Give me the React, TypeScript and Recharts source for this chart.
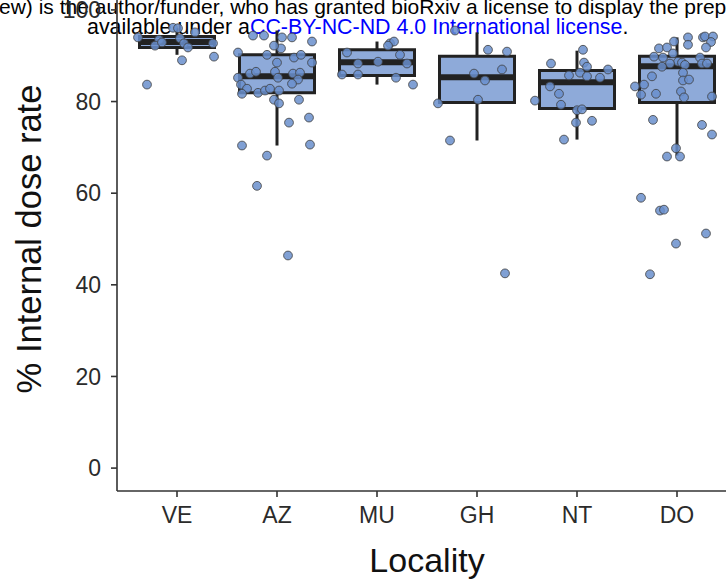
import React from 'react';
import {
  ScatterChart,
  Scatter,
  XAxis,
  YAxis,
  ReferenceArea,
  ReferenceLine,
} from 'recharts';

const localities = ['VE', 'AZ', 'MU', 'GH', 'NT', 'DO'];

// box statistics
const whiskerLow = [90.2, 70.4, 83.7, 71.5, 71.7, 68.2];
const lowerQuartile = [91.8, 81.9, 85.7, 79.8, 78.5, 79.8];
const medians = [93.0, 85.5, 88.6, 85.3, 84.2, 87.7];
const upperQuartile = [94.2, 90.2, 91.3, 89.9, 86.8, 89.9];
const whiskerHigh = [96.0, 95.5, 93.1, 95.1, 91.1, 94.0];

// individual points (value, horizontal jitter in category units)
const veValues = [94.0, 96.1, 93.5, 92.2, 92.9, 93.8, 92.7, 91.8, 89.0, 92.7, 89.8, 83.7, 95.1, 96.0];
const veJitter = [-0.39, -0.04, -0.18, -0.22, -0.15, 0.03, 0.07, 0.11, 0.05, 0.36, 0.37, -0.3, 0.18, 0.01];

const azValues = [
  90.7, 94.4, 94.4, 94.0, 94.0, 91.6, 92.2, 93.1, 90.2, 88.5, 89.6, 90.2, 88.5, 85.2, 86.1, 86.5, 86.5, 85.2, 86.1, 86.3,
  84.8, 83.9, 83.7, 82.8, 81.7, 81.9, 82.4, 82.8, 82.4, 80.4, 79.6, 80.4, 75.4, 76.5, 70.4, 70.6, 68.2, 61.6, 46.4,
];
const azJitter = [
  -0.39, -0.24, -0.13, 0.05, 0.15, 0.04, -0.03, 0.35, -0.1, 0.0, 0.17, 0.24, 0.35, -0.39, -0.27, -0.21, -0.02, 0.01, 0.16, 0.23,
  0.21, 0.15, -0.36, -0.3, -0.35, -0.19, -0.12, -0.07, 0.02, -0.03, 0.02, 0.22, 0.12, 0.32, -0.35, 0.33, -0.1, -0.2, 0.11,
];

const muValues = [90.7, 92.7, 93.1, 92.2, 90.2, 88.3, 88.7, 88.3, 85.9, 85.9, 85.2, 83.7];
const muJitter = [-0.3, 0.13, 0.17, 0.11, 0.23, -0.19, 0.01, 0.3, -0.35, -0.19, 0.19, 0.36];

const ghValues = [95.5, 91.3, 90.9, 87.0, 86.1, 84.6, 80.4, 79.6, 71.5, 42.5];
const ghJitter = [-0.22, 0.11, 0.3, 0.25, -0.03, 0.08, 0.01, -0.39, -0.27, 0.28];

const ntValues = [91.3, 88.3, 88.5, 87.6, 85.7, 86.3, 85.5, 85.2, 87.0, 83.3, 81.7, 80.2, 79.3, 78.1, 78.3, 75.8, 75.4, 71.7];
const ntJitter = [0.06, -0.26, 0.07, 0.1, -0.08, 0.03, 0.1, 0.23, 0.31, -0.27, -0.18, -0.42, -0.16, 0.0, 0.05, 0.15, -0.01, -0.13];

const doValues = [
  93.1, 94.0, 92.4, 94.0, 94.2, 94.2, 93.0, 91.8, 91.6, 91.8, 90.5, 89.8, 89.6, 88.7, 88.5, 88.0, 89.6, 88.3, 88.3, 88.3,
  87.6, 86.3, 85.5, 84.6, 84.8, 83.7, 83.3, 81.5, 81.7, 82.2, 80.9, 81.1, 76.0, 74.9, 72.8, 69.8, 68.0, 68.0, 59.0, 56.2,
  56.4, 51.2, 49.0, 42.3,
];
const doJitter = [
  -0.03, 0.11, 0.11, 0.26, 0.28, 0.36, 0.34, 0.29, -0.18, -0.1, -0.04, -0.23, -0.14, 0.01, 0.05, 0.08, 0.23, 0.25, 0.3, -0.07,
  -0.15, 0.06, -0.25, 0.06, 0.12, -0.33, -0.42, -0.36, -0.21, 0.04, 0.07, 0.35, -0.24, 0.25, 0.35, -0.01, -0.1, 0.03, -0.36, -0.17,
  -0.13, 0.29, -0.01, -0.27,
];

const yTicks = [0, 20, 40, 60, 80, 100];

const groups = [
  [veValues, veJitter],
  [azValues, azJitter],
  [muValues, muJitter],
  [ghValues, ghJitter],
  [ntValues, ntJitter],
  [doValues, doJitter],
];

const points = groups.flatMap(([vals, jit], i) =>
  vals.map((v, k) => ({ x: i + 1 + jit[k], y: v, locality: localities[i] }))
);

const BOX_HALF = 0.375;
const AXIS = '#333333';
const BOX_FILL = '#8eaad9';
const INK = '#222222';
const FONT = '"Liberation Sans", Arial, sans-serif';

const Dot = (props: any) => (
  <circle
    cx={props.cx}
    cy={props.cy}
    r={4.4}
    fill="#6a8fcc"
    fillOpacity={0.85}
    stroke="#3d3d3d"
    strokeWidth={0.8}
  />
);

export default function App() {
  return (
    <div style={{ position: 'relative', width: 726, height: 583, overflow: 'hidden', background: '#fff' }}>
      <style>{'body{margin:0}'}</style>
      {/* bioRxiv banner */}
      <div
        style={{
          position: 'absolute',
          left: -1,
          top: -4,
          whiteSpace: 'nowrap',
          fontFamily: FONT,
          fontSize: 21,
          lineHeight: '21px',
          color: '#000',
        }}
      >
        ew) is the author/funder, who has granted bioRxiv a license to display the preprint in perpetuity. It is made
      </div>
      <div
        style={{
          position: 'absolute',
          left: 87,
          top: 17,
          whiteSpace: 'nowrap',
          fontFamily: FONT,
          fontSize: 21.4,
          lineHeight: '21px',
          color: '#000',
        }}
      >
        available under a<span style={{ color: '#0000ff' }}>CC-BY-NC-ND 4.0 International license</span>.
      </div>

      <div style={{ position: 'absolute', left: 0, top: -13 }}>
        <ScatterChart width={757} height={596} margin={{ top: 0, right: 20, bottom: 0, left: 0 }}>
          <XAxis
            type="number"
            dataKey="x"
            domain={[0.4, 6.6]}
            ticks={[1, 2, 3, 4, 5, 6]}
            tickFormatter={(v: number) => localities[Math.round(v) - 1]}
            allowDataOverflow
            height={92}
            tickSize={6}
            tickMargin={10}
            stroke={AXIS}
            strokeWidth={1.6}
            tick={{ fill: '#2b2b2b', fontSize: 23, fontFamily: FONT }}
            label={{
              content: (p: any) => (
                <text
                  x={p.viewBox.x + p.viewBox.width / 2}
                  y={585}
                  textAnchor="middle"
                  fontSize={34}
                  fontFamily={FONT}
                  fill="#111"
                >
                  Locality
                </text>
              ),
            }}
          />
          <YAxis
            type="number"
            dataKey="y"
            domain={[-5, 105]}
            ticks={yTicks}
            allowDataOverflow
            width={117}
            tickSize={6}
            tickMargin={10}
            stroke={AXIS}
            strokeWidth={1.6}
            tick={{ fill: '#2b2b2b', fontSize: 23, fontFamily: FONT }}
            label={{
              content: (p: any) => {
                const cy = p.viewBox.y + p.viewBox.height / 2;
                return (
                  <text
                    x={29}
                    y={cy}
                    textAnchor="middle"
                    dominantBaseline="central"
                    transform={`rotate(-90, 29, ${cy})`}
                    fontSize={34.5}
                    fontFamily={FONT}
                    fill="#111"
                  >
                    % Internal dose rate
                  </text>
                );
              },
            }}
          />

          {localities.map((loc, i) => (
            <ReferenceLine
              key={`wl-${loc}`}
              segment={[
                { x: i + 1, y: whiskerLow[i] },
                { x: i + 1, y: lowerQuartile[i] },
              ]}
              stroke={INK}
              strokeWidth={3}
            />
          ))}
          {localities.map((loc, i) => (
            <ReferenceLine
              key={`wh-${loc}`}
              segment={[
                { x: i + 1, y: upperQuartile[i] },
                { x: i + 1, y: whiskerHigh[i] },
              ]}
              stroke={INK}
              strokeWidth={3}
            />
          ))}
          {localities.map((loc, i) => (
            <ReferenceArea
              key={`box-${loc}`}
              x1={i + 1 - BOX_HALF}
              x2={i + 1 + BOX_HALF}
              y1={lowerQuartile[i]}
              y2={upperQuartile[i]}
              fill={BOX_FILL}
              fillOpacity={1}
              stroke={INK}
              strokeWidth={3}
            />
          ))}
          {localities.map((loc, i) => (
            <ReferenceLine
              key={`med-${loc}`}
              segment={[
                { x: i + 1 - BOX_HALF, y: medians[i] },
                { x: i + 1 + BOX_HALF, y: medians[i] },
              ]}
              stroke={INK}
              strokeWidth={6}
            />
          ))}

          <Scatter data={points} shape={Dot} isAnimationActive={false} />
        </ScatterChart>
      </div>
    </div>
  );
}
